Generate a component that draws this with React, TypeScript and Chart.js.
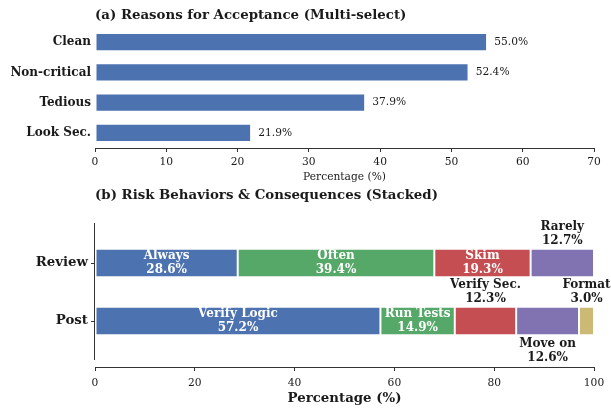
import { useEffect, useRef } from 'react';
import { Chart, registerables } from 'chart.js';
Chart.register(...registerables);

const FONT = '"DejaVu Serif", serif';
const INK = '#1a1a1a';
const SPINE = '#333333';

// ---- (a) Reasons for Acceptance ----
const titleA = '(a) Reasons for Acceptance (Multi-select)';
const acceptCategories = ['Clean', 'Non-critical', 'Tedious', 'Look Sec.'];
const acceptValues = [55.0, 52.4, 37.9, 21.9];
const acceptAxisMax = 70;
const acceptTickStep = 10;
const acceptXLabel = 'Percentage (%)';

// ---- (b) Risk Behaviors & Consequences ----
const titleB = '(b) Risk Behaviors & Consequences (Stacked)';
const riskRows = ['Review', 'Post'];
const riskRowPositions = [1, 0];
const riskYRange = [-0.793, 1.69];
const riskSpineRange = [-0.672, 1.69];
const reviewLabels = ['Always', 'Often', 'Skim', 'Rarely'];
const reviewValues = [28.6, 39.4, 19.3, 12.7];
const reviewPlacement = ['in', 'in', 'in', 'above'];
const postLabels = ['Verify Logic', 'Run Tests', 'Verify Sec.', 'Move on', 'Format'];
const postValues = [57.2, 14.9, 12.3, 12.6, 3.0];
const postPlacement = ['in', 'in', 'above', 'below', 'above'];
const layerColors = ['#4C72B0', '#55A868', '#C44E52', '#8172B2', '#CCB974'];
const riskAxisMax = 100;
const riskTickStep = 20;
const riskXLabel = 'Percentage (%)';

const TITLE_SIZE = 13.33;
const LABEL_SIZE = 12;
const BIG_LABEL_SIZE = 13.33;
const TICK_SIZE = 10.67;

Chart.defaults.font.family = FONT;
Chart.defaults.color = INK;

function topConfig(): any {
  const plugin = {
    id: 'topText',
    afterDraw(chart: any) {
      const { ctx, chartArea, scales } = chart;
      ctx.save();
      ctx.fillStyle = INK;
      ctx.font = `bold ${TITLE_SIZE}px ${FONT}`;
      ctx.textAlign = 'left';
      ctx.textBaseline = 'middle';
      ctx.fillText(titleA, chartArea.left, 16);
      ctx.font = `${TICK_SIZE}px ${FONT}`;
      ctx.textAlign = 'center';
      ctx.fillText(acceptXLabel, (chartArea.left + chartArea.right) / 2, chartArea.bottom + 29.5);
      const meta = chart.getDatasetMeta(0);
      ctx.textAlign = 'left';
      acceptValues.forEach((v, i) => {
        const el = meta.data[i];
        ctx.fillText(v.toFixed(1) + '%', scales.x.getPixelForValue(v + 1), el.y);
      });
      ctx.restore();
    },
  };
  return {
    type: 'bar',
    data: {
      labels: acceptCategories,
      datasets: [
        {
          data: acceptValues,
          backgroundColor: layerColors[0],
          borderColor: 'rgba(255,255,255,0.6)',
          borderWidth: 1,
          borderSkipped: false,
          categoryPercentage: 1,
          barPercentage: 0.6,
        },
      ],
    },
    options: {
      indexAxis: 'y',
      animation: false,
      responsive: false,
      layout: { padding: { top: 27, right: 17, left: 0, bottom: 0 } },
      plugins: { legend: { display: false }, tooltip: { enabled: false }, title: { display: false } },
      scales: {
        x: {
          min: 0,
          max: acceptAxisMax,
          ticks: { stepSize: acceptTickStep, font: { size: TICK_SIZE }, color: INK, padding: 4 },
          grid: { drawOnChartArea: false, drawTicks: true, tickLength: 4, color: SPINE },
          border: { display: true, color: SPINE, width: 1 },
          afterFit: (s: any) => { s.height = 37; },
        },
        y: {
          ticks: { font: { size: LABEL_SIZE, weight: 'bold' }, color: INK, padding: 4 },
          grid: { display: false, drawTicks: false },
          border: { display: false },
          afterFit: (s: any) => { s.width = 95; },
        },
      },
    },
    plugins: [plugin],
  };
}

function botConfig(): any {
  const rowsData = [
    { values: reviewValues, labels: reviewLabels, placement: reviewPlacement, pos: riskRowPositions[0] },
    { values: postValues, labels: postLabels, placement: postPlacement, pos: riskRowPositions[1] },
  ];
  const nLayers = Math.max(reviewValues.length, postValues.length);
  const datasets = [];
  for (let i = 0; i < nLayers; i++) {
    const pts: any[] = [];
    rowsData.forEach((r) => {
      if (i < r.values.length) pts.push({ x: r.values[i], y: r.pos });
    });
    datasets.push({
      data: pts,
      backgroundColor: layerColors[i],
      borderColor: 'rgba(255,255,255,0.9)',
      borderWidth: 1,
      borderSkipped: false,
      stack: 'all',
      categoryPercentage: 1,
      barPercentage: 0.49,
    });
  }
  const plugin = {
    id: 'botText',
    afterDraw(chart: any) {
      const { ctx, chartArea, scales } = chart;
      ctx.save();
      // left spine (shorter than the plot area)
      ctx.strokeStyle = SPINE;
      ctx.lineWidth = 1;
      ctx.beginPath();
      const sx = Math.round(chartArea.left) - 0.5;
      ctx.moveTo(sx, scales.y.getPixelForValue(riskSpineRange[1]));
      ctx.lineTo(sx, scales.y.getPixelForValue(riskSpineRange[0]));
      ctx.stroke();

      ctx.fillStyle = INK;
      ctx.font = `bold ${TITLE_SIZE}px ${FONT}`;
      ctx.textAlign = 'left';
      ctx.textBaseline = 'middle';
      ctx.fillText(titleB, chartArea.left, 10.5);
      ctx.font = `bold ${BIG_LABEL_SIZE}px ${FONT}`;
      ctx.textAlign = 'center';
      ctx.fillText(riskXLabel, (chartArea.left + chartArea.right) / 2, chartArea.bottom + 32);

      ctx.font = `bold ${LABEL_SIZE}px ${FONT}`;
      const lh = 13.6;
      for (let i = 0; i < nLayers; i++) {
        const meta = chart.getDatasetMeta(i);
        let k = 0;
        rowsData.forEach((r) => {
          if (i >= r.values.length) return;
          const el = meta.data[k++];
          const cx = (el.x + el.base) / 2;
          const cy = el.y;
          const h = el.height;
          const l1 = r.labels[i];
          const l2 = r.values[i].toFixed(1) + '%';
          const p = r.placement[i];
          if (p === 'in') {
            ctx.fillStyle = '#ffffff';
            ctx.fillText(l1, cx, cy - lh / 2);
            ctx.fillText(l2, cx, cy + lh / 2);
          } else if (p === 'above') {
            ctx.fillStyle = INK;
            const top = cy - h / 2;
            ctx.fillText(l1, cx, top - 8 - lh);
            ctx.fillText(l2, cx, top - 8);
          } else {
            ctx.fillStyle = INK;
            const bot = cy + h / 2;
            ctx.fillText(l1, cx, bot + 9);
            ctx.fillText(l2, cx, bot + 9 + lh);
          }
        });
      }
      ctx.restore();
    },
  };
  return {
    type: 'bar',
    data: { datasets },
    options: {
      indexAxis: 'y',
      animation: false,
      responsive: false,
      layout: { padding: { top: 38, right: 17, left: 0, bottom: 0 } },
      plugins: { legend: { display: false }, tooltip: { enabled: false }, title: { display: false } },
      scales: {
        x: {
          type: 'linear',
          stacked: true,
          min: 0,
          max: riskAxisMax,
          ticks: { stepSize: riskTickStep, font: { size: TICK_SIZE }, color: INK, padding: 6 },
          grid: { drawOnChartArea: false, drawTicks: true, tickLength: 4, color: SPINE },
          border: { display: true, color: SPINE, width: 1 },
          afterFit: (s: any) => { s.height = 41; },
        },
        y: {
          type: 'linear',
          offset: false,
          min: riskYRange[0],
          max: riskYRange[1],
          afterBuildTicks: (s: any) => {
            s.ticks = [...riskRowPositions].sort((a, b) => a - b).map((v) => ({ value: v }));
          },
          ticks: {
            font: { size: BIG_LABEL_SIZE, weight: 'bold' },
            color: INK,
            padding: 3,
            callback: (v: any) => riskRows[riskRowPositions.indexOf(Number(v))] ?? '',
          },
          grid: { offset: false, drawOnChartArea: false, drawTicks: true, tickLength: 4, color: SPINE },
          border: { display: false },
          afterFit: (s: any) => { s.width = 95; },
        },
      },
    },
    plugins: [plugin],
  };
}

export default function App() {
  const topRef = useRef<HTMLCanvasElement>(null);
  const botRef = useRef<HTMLCanvasElement>(null);
  useEffect(() => {
    const c1 = new Chart(topRef.current as HTMLCanvasElement, topConfig());
    const c2 = new Chart(botRef.current as HTMLCanvasElement, botConfig());
    return () => {
      c1.destroy();
      c2.destroy();
    };
  }, []);
  return (
    <div style={{ position: 'absolute', left: 0, top: 0, width: 611, height: 408, background: '#ffffff' }}>
      <canvas ref={topRef} width={611} height={185} style={{ position: 'absolute', left: 0, top: 0, width: 611, height: 185 }} />
      <canvas ref={botRef} width={611} height={223} style={{ position: 'absolute', left: 0, top: 185, width: 611, height: 223 }} />
    </div>
  );
}
